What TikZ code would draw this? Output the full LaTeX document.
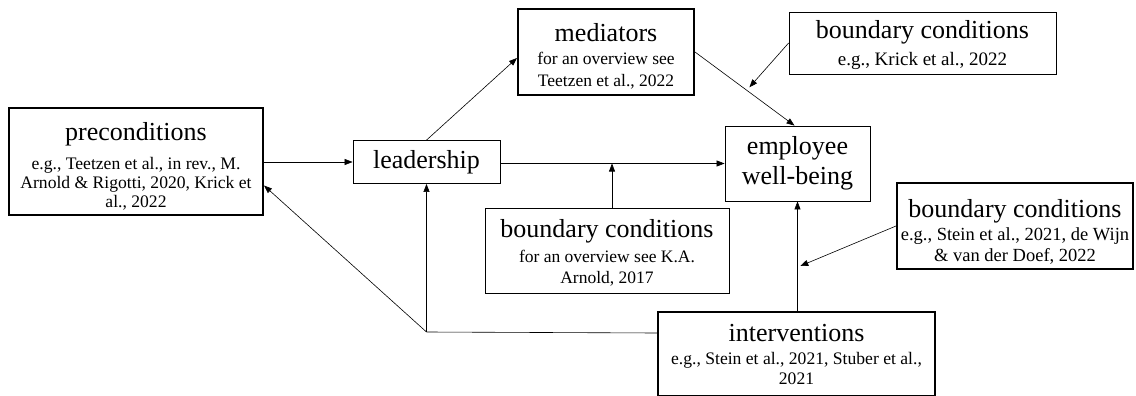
\documentclass[tikz,border=0pt]{standalone}
\usepackage{fontspec}
\setmainfont{Liberation Serif}
\usetikzlibrary{arrows.meta,calc}
\newcommand\ttlfont{\fontsize{26}{30}\selectfont}
\newcommand\subf[2]{\fontsize{#1}{#2}\selectfont\lineskiplimit=-100pt\lineskip=0pt}
\begin{document}
\begin{tikzpicture}[x=1pt,y=-1pt,
  box/.style={draw, line width=0.8pt, inner sep=0pt},
  thickbox/.style={box, line width=2pt},
  txt/.style={inner sep=0pt, align=center, anchor=north},
  conn/.style={line width=0.6pt},
  arr/.style={conn, -{Triangle[length=8pt,width=6pt]}}]
\useasboundingbox (0,0) rectangle (1136,396);
% boxes
\node[thickbox, minimum width=254pt, minimum height=107pt] (pre) at (136,161.5) {};
\node[box, minimum width=147pt, minimum height=43pt, font=\ttlfont] (lead) at (426.5,162) {leadership};
\node[thickbox, minimum width=176pt, minimum height=86pt] (med) at (606,52) {};
\node[box, minimum width=267pt, minimum height=62pt] (bc1) at (922.5,43) {};
\node[box, minimum width=145pt, minimum height=75pt, align=center, font=\ttlfont] (emp) at (797.5,163.5) {employee\\well-being};
\node[box, minimum width=244pt, minimum height=85pt] (bc2) at (607,250.5) {};
\node[thickbox, minimum width=236pt, minimum height=86pt] (bc3) at (1015,226) {};
\node[thickbox, minimum width=277pt, minimum height=84pt] (int) at (796.5,354) {};
% texts
\node[txt, font=\subf{17.6}{19}] (pre-t) at (136,122) {{\ttlfont preconditions}\\[10pt]e.g., Teetzen et al., in rev., M.\\Arnold \& Rigotti, 2020, Krick et\\al., 2022};
\node[txt, font=\subf{17.5}{22}] (med-t) at (606,23) {{\ttlfont mediators}\\[1pt]for an overview see\\Teetzen et al., 2022};
\node[txt, font=\subf{19}{27}] (bc1-t) at (922.5,20) {{\ttlfont boundary conditions}\\e.g., Krick et al., 2022};
\node[txt, font=\subf{17.5}{21}] (bc2-t) at (607,219) {{\ttlfont boundary conditions}\\[4pt]for an overview see K.A.\\Arnold, 2017};
\node[txt, font=\subf{18.5}{21}] (bc3-t) at (1015,199) {{\ttlfont boundary conditions}\\[2pt]e.g., Stein et al., 2021, de Wijn\\\& van der Doef, 2022};
\node[txt, font=\subf{17.6}{20}] (int-t) at (796.5,324) {{\ttlfont interventions}\\[3pt]e.g., Stein et al., 2021, Stuber et al.,\\2021};
% coordinates
\coordinate (corner) at (lead.south |- 0,332);
\coordinate (intw) at ([yshift=21pt]int.west);
% connectors
\draw[arr] (pre.east |- lead.west) -- (lead.west);
\draw[arr] (lead.north) -- ([yshift=-6pt]med.west);
\draw[arr] (med.east) -- ([xshift=-3pt]emp.north);
\draw[arr, shorten >=4pt] (bc1.west) -- ($(med.east)!0.52!([xshift=-3pt]emp.north)$);
\draw[arr] (lead.east |- emp.west) -- (emp.west);
\draw[arr] ([xshift=5pt]bc2.north) -- ([xshift=5pt]bc2.north |- emp.west);
\draw[arr] (emp.south |- int.north) -- (emp.south);
\draw[arr, shorten >=3pt] (bc3.west) -- ($(emp.south)!0.6!(emp.south |- int.north)$);
\draw[conn] (intw) -- (corner);
\draw[arr] (corner) -- (lead.south);
\draw[arr] (corner) -- ([yshift=-24pt]pre.east);
\end{tikzpicture}
\end{document}
